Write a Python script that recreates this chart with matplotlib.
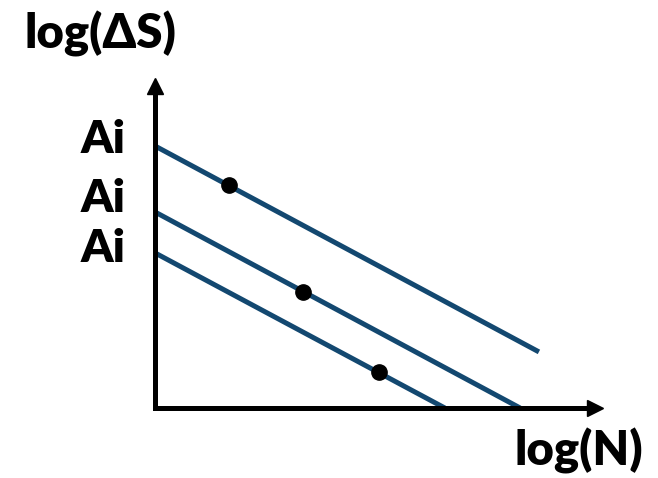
import matplotlib.pyplot as plt

# S-N curves on log-log axes: three parallel lines, one reference point each
line_x = [[0.0, 8.57], [0.0, 8.15], [0.0, 6.47]]
line_y = [[7.94, 1.70], [5.94, 0.0], [4.70, 0.0]]
dot_x = [1.65, 3.30, 5.00]
dot_y = [6.76, 3.52, 1.10]
tick_labels = ['Ai', 'Ai', 'Ai']
tick_pos = [7.73, 5.94, 4.42]

plt.rcParams['font.family'] = ['Lato', 'DejaVu Sans']

W, H = 658, 478
fig = plt.figure(figsize=(W / 100, H / 100), dpi=100)
# axes box in pixels: origin (155, 408), right end 595, top 86
ax = fig.add_axes([155 / W, (H - 408) / H, (595 - 155) / W, (408 - 86) / H])
ax.set_xlim(0, 440 / 44.8)
ax.set_ylim(0, 322 / 33)

blue = '#134870'
for xs, ys in zip(line_x, line_y):
    ax.plot(xs, ys, color=blue, lw=3.6, solid_capstyle='butt', clip_on=False)
ax.plot(dot_x, dot_y, 'o', color='black', ms=11, zorder=5)

for side in ['top', 'right']:
    ax.spines[side].set_visible(False)
for side in ['left', 'bottom']:
    ax.spines[side].set_linewidth(3.6)
    ax.spines[side].set_color('black')

# arrow heads
ax.plot(1, 0, '>k', ms=12, transform=ax.transAxes, clip_on=False)
ax.plot(0, 1, '^k', ms=12, transform=ax.transAxes, clip_on=False)

ax.set_xticks([])
ax.set_yticks([])
for y, lab in zip(tick_pos, tick_labels):
    ax.text(-29 / 44.8, y, lab, ha='right', va='baseline', fontsize=33,
            fontweight='heavy')

fig.text(100 / W, 1 - 34 / H, 'log(ΔS)', ha='center', va='center',
         fontsize=34, fontweight='heavy')
fig.text(643 / W, 1 - 451 / H, 'log(N)', ha='right', va='center',
         fontsize=34, fontweight='heavy')

fig.savefig('out.png', dpi=100)
